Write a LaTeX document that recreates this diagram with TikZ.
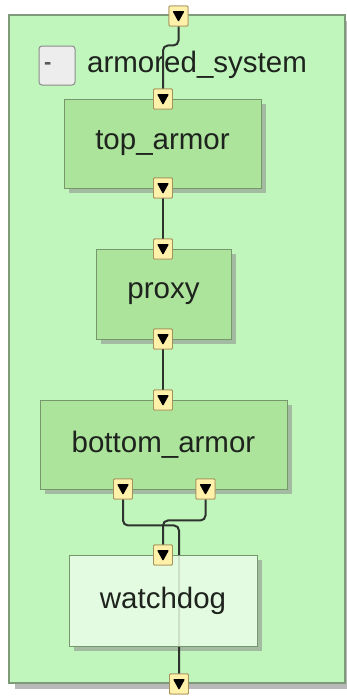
\documentclass[tikz,border=0pt]{standalone}
\usepackage{fontspec}
\setmainfont{Liberation Sans}
\usetikzlibrary{calc,shadows}
\definecolor{outerG}{RGB}{192,245,188}
\definecolor{outerB}{RGB}{125,155,120}
\definecolor{boxG}{RGB}{172,228,156}
\definecolor{boxB}{RGB}{118,150,108}
\definecolor{wdG}{RGB}{233,253,231}
\definecolor{portF}{RGB}{255,240,170}
\definecolor{portB}{RGB}{165,145,90}
\definecolor{wireC}{RGB}{45,50,45}
\definecolor{txtC}{RGB}{30,35,30}
\definecolor{shadowC}{RGB}{110,130,105}
\tikzset{
  x=1pt, y=1pt,
  outerbox/.style={draw=outerB, line width=1.2pt, fill=outerG,
    drop shadow={shadow xshift=6pt, shadow yshift=-6pt, fill=black!35, opacity=0.8}},
  blockbox/.style={draw=boxB, line width=1pt, fill=boxG, text=txtC,
    font=\fontsize{29.5}{32}\selectfont,
    drop shadow={shadow xshift=5pt, shadow yshift=-5pt, fill=black!45, opacity=0.55}},
  wdbox/.style={draw=boxB, line width=1pt, fill=wdG, fill opacity=0.86, text opacity=1,
    text=txtC, font=\fontsize{29.5}{32}\selectfont},
  wdshadow/.style={fill=black!45, opacity=0.55},
  btnbox/.style={draw=black!45, line width=1pt, fill=black!7, rounded corners=3pt,
    minimum width=36pt, minimum height=39pt, text width=26pt, align=left,
    inner xsep=5pt, font=\fontsize{22}{22}\selectfont\bfseries, text=black!65},
  portnode/.style={draw=portB, line width=0.9pt, fill=portF, rounded corners=1pt,
    minimum width=19pt, minimum height=20pt, inner sep=0pt,
    path picture={\fill[black] ($(path picture bounding box.center)+(-6,5)$)
      -- ++(12,0) -- ++(-6,-11) -- cycle;}},
  wire/.style={draw=wireC, line width=2pt, rounded corners=5pt},
  titletext/.style={font=\fontsize{29.5}{32}\selectfont, text=txtC, inner sep=0pt}
}
\begin{document}
\begin{tikzpicture}
\useasboundingbox (0,0) rectangle (347,-696);
% outer system box
\node[outerbox, minimum width=336pt, minimum height=668pt, inner sep=0pt] (sys) at (177,-349) {};
\node[btnbox] (btn) at (57,-65.5) {\raisebox{-3pt}{-}};
\node[titletext, anchor=base west] (title) at (87,-72) {armored\_system};

% blocks
\node[blockbox, minimum width=197pt, minimum height=89pt] (ta) at (162.5,-143.5) {top\_armor};
\node[blockbox, minimum width=135pt, minimum height=90pt] (px) at (163.5,-294) {proxy};
\node[blockbox, minimum width=247pt, minimum height=89pt] (ba) at (163.5,-444.5) {bottom\_armor};

% ports
\node[portnode] (sysin) at (178.5,-16) {};
\node[portnode] (tain) at (163,-99) {};
\node[portnode] (taout) at (163,-188) {};
\node[portnode] (pxin) at (163,-249) {};
\node[portnode] (pxout) at (163,-339) {};
\node[portnode] (bain) at (163,-400) {};
\node[portnode] (baout1) at (123,-489) {};
\node[portnode] (baout2) at (205.5,-489) {};
\node[portnode] (sysout) at (179,-684) {};

% watchdog shadow (L-shaped, drawn directly)
\fill[wdshadow] (257,-560) rectangle (262,-651);
\fill[wdshadow] (74,-646) rectangle (257,-651);

% wire passing beneath watchdog
\draw[wire] (baout1.south) -- ++(0,-26) -| (sysout.north);

% watchdog block
\node[wdbox, minimum width=188pt, minimum height=91pt] (wd) at (163,-600.5) {watchdog};
\node[portnode] (wdin) at (163,-555) {};

% wires
\draw[wire] (sysin.south) -- ++(0,-19) -| (tain.north);
\draw[wire] (taout.south) -- (pxin.north);
\draw[wire] (pxout.south) -- (bain.north);
\draw[wire] (baout2.south) -- ++(0,-21) -| (wdin.north);

% redraw ports on top
\foreach \p in {sysin,tain,taout,pxin,pxout,bain,baout1,baout2,sysout,wdin}{
  \node[portnode] at (\p) {};
}
\end{tikzpicture}
\end{document}
